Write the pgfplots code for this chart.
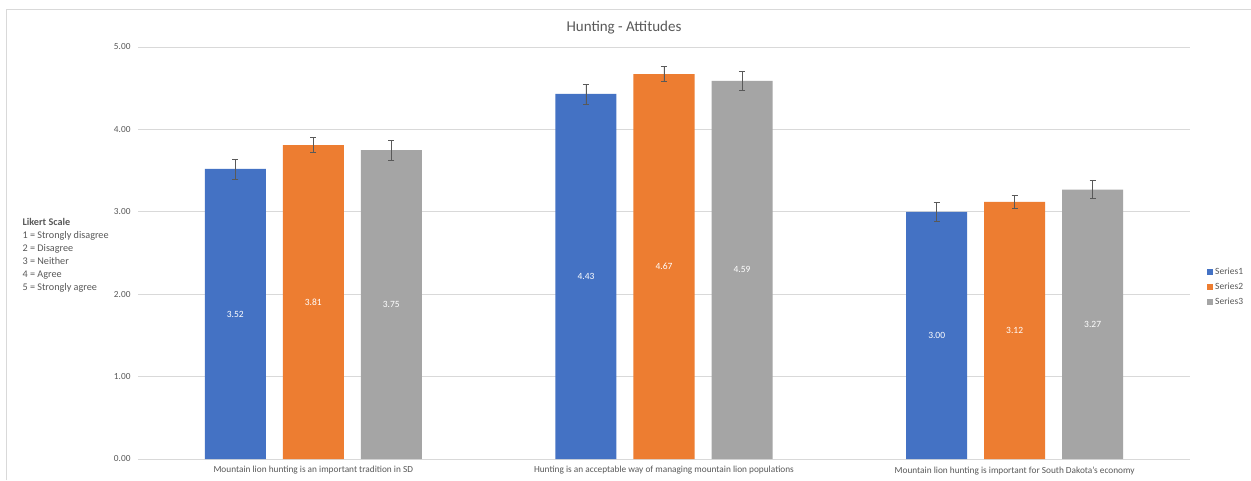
\documentclass[border=0pt]{standalone}
\usepackage{pgfplots}
\pgfplotsset{compat=1.18}
\usepackage{fontspec}
\setmainfont{Carlito}
\definecolor{sblue}{HTML}{4472C4}
\definecolor{sorange}{HTML}{ED7D31}
\definecolor{sgray}{HTML}{A5A5A5}
\definecolor{gridc}{HTML}{D9D9D9}
\definecolor{txt}{HTML}{595959}
\begin{document}
\begin{tikzpicture}
\useasboundingbox (0pt,0pt) rectangle (1251pt,480pt);
\fill[white] (0pt,0pt) rectangle (1251pt,480pt);
\draw[gridc,line width=0.8pt] (6pt,0pt) -- (6pt,471pt) -- (1251pt,471pt);
\node[txt,font=\fontsize{15}{17}\selectfont] at (624pt,452pt) {Hunting - Attitudes};
\node[txt,anchor=north west,align=left,font=\fontsize{10.2}{13}\selectfont] at (19pt,265pt) {\textbf{Likert Scale}\\1 = Strongly disagree\\2 = Disagree\\3 = Neither\\4 = Agree\\5 = Strongly agree};
\begin{axis}[
  at={(138pt,21pt)}, anchor=south west,
  scale only axis, width=1052pt, height=412pt,
  ymin=0, ymax=5, xmin=-0.5, xmax=2.5,
  ytick={0,1,2,3,4,5},
  /pgf/number format/assume math mode=true,
  xtick={0,1,2},
  xticklabels={Mountain lion hunting is an important tradition in SD,Hunting is an acceptable way of managing mountain lion populations,Mountain lion hunting is important for South Dakota's economy},
  ticklabel style={font=\fontsize{9.3}{11}\selectfont, text=txt},
  xticklabel style={yshift=-4pt},
  yticklabel style={xshift=-4pt, /pgf/number format/.cd,fixed,fixed zerofill,precision=2},
  major tick length=0pt,
  ymajorgrids, grid style={gridc, line width=0.8pt},
  axis x line*=bottom, axis y line*=left,
  x axis line style={gridc, line width=0.8pt, -},
  y axis line style={draw=none},
  ybar, bar width=61pt,
  error bars/error bar style={black!65, line width=0.6pt},
  error bars/error mark options={black!65, line width=0.6pt, mark size=3pt, rotate=90},
  legend style={at={(1.0162,0.417)}, anchor=west, draw=none, fill=none, font=\fontsize{9.5}{11}\selectfont, text=txt, row sep=3pt, legend cell align=left, inner sep=0pt},
  legend image code/.code={\fill[#1] (0pt,-3pt) rectangle (6pt,3pt);},
  clip=false,
]
\addplot[fill=sblue, draw=none, bar shift=-78pt, error bars/.cd, y dir=both, y explicit] coordinates {(0,3.52) +- (0,0.12) (1,4.43) +- (0,0.12) (2,3.00) +- (0,0.11)};
\addlegendentry{Series1}
\addplot[fill=sorange, draw=none, bar shift=0pt, error bars/.cd, y dir=both, y explicit] coordinates {(0,3.81) +- (0,0.09) (1,4.67) +- (0,0.09) (2,3.12) +- (0,0.08)};
\addlegendentry{Series2}
\addplot[fill=sgray, draw=none, bar shift=78pt, error bars/.cd, y dir=both, y explicit] coordinates {(0,3.75) +- (0,0.12) (1,4.59) +- (0,0.11) (2,3.27) +- (0,0.11)};
\addlegendentry{Series3}
\pgfplotsset{every node near coord/.style={anchor=center, font=\fontsize{9.5}{11}\selectfont, text=white}}
\addplot[sharp plot, draw=none, mark=none, forget plot, point meta=explicit symbolic, nodes near coords] coordinates {(-0.2224,1.76)[3.52] (0.7776,2.215)[4.43] (1.7776,1.50)[3.00]};
\addplot[sharp plot, draw=none, mark=none, forget plot, point meta=explicit symbolic, nodes near coords] coordinates {(0,1.905)[3.81] (1,2.335)[4.67] (2,1.56)[3.12]};
\addplot[sharp plot, draw=none, mark=none, forget plot, point meta=explicit symbolic, nodes near coords] coordinates {(0.2224,1.875)[3.75] (1.2224,2.295)[4.59] (2.2224,1.635)[3.27]};
\end{axis}
\end{tikzpicture}
\end{document}
